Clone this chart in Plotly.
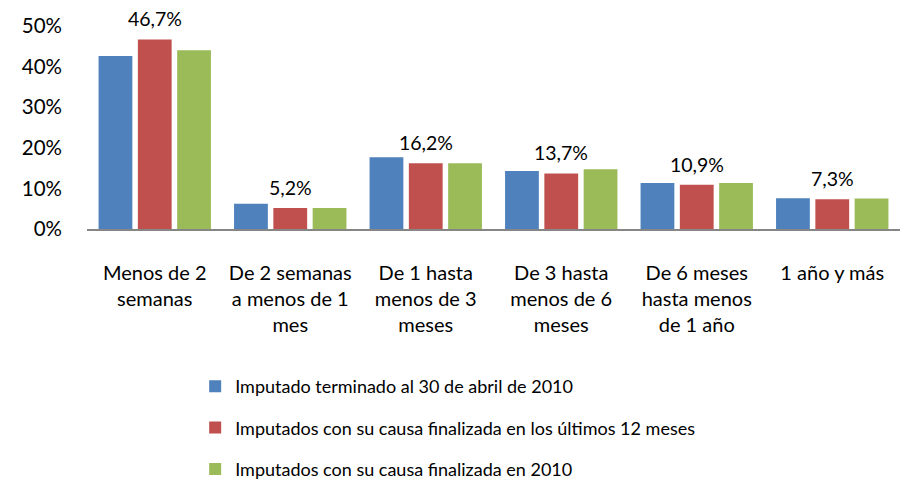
import plotly.graph_objects as go

categories = ["Menos de 2<br>semanas", "De 2 semanas<br>a menos de 1<br>mes", "De 1 hasta<br>menos de 3<br>meses",
              "De 3 hasta<br>menos de 6<br>meses", "De 6 meses<br>hasta menos<br>de 1 año", "1 año y más"]
series_names = ["Imputado terminado al 30 de abril de 2010",
                "Imputados con su causa finalizada en los últimos 12 meses",
                "Imputados con su causa finalizada en 2010"]
s_abril = [0.426, 0.062, 0.177, 0.143, 0.113, 0.076]
s_12m = [0.467, 0.052, 0.162, 0.137, 0.109, 0.073]
s_2010 = [0.440, 0.052, 0.162, 0.147, 0.113, 0.075]
colors = ["#4F81BD", "#C0504D", "#9BBB59"]

FONT = "Lato"
fig = go.Figure()
for i, (name, vals) in enumerate(zip(series_names, [s_abril, s_12m, s_2010])):
    fig.add_trace(go.Bar(x=categories, y=vals, name=name, marker_color=colors[i],
                         marker_line_width=0, legendgroup=f"g{i}"))

for c, v in zip(categories, s_12m):
    fig.add_annotation(x=c, y=v, text=f"{v*100:.1f}%".replace(".", ","), showarrow=False,
                       yanchor="bottom", yshift=7, font=dict(family=FONT, size=19.5, color="#000"))

fig.update_layout(
    width=913, height=480,
    margin=dict(l=79, r=21, t=18, b=259, autoexpand=False),
    paper_bgcolor="white", plot_bgcolor="white",
    barmode="group", bargap=0.13, bargroupgap=0.14,
    separators=",.",
    font=dict(family=FONT, size=20, color="#000"),
    showlegend=True,
    legend=dict(orientation="v", xref="container", yref="container", x=0.205, y=0.0,
                xanchor="left", yanchor="bottom", tracegroupgap=15,
                font=dict(family=FONT, size=18, color="#000")),
)
fig.update_xaxes(showline=True, linecolor="#868686", linewidth=2, ticks="", showgrid=False,
                 tickangle=0, automargin=False,
                 ticklabelstandoff=25, tickfont=dict(family=FONT, size=20))
fig.update_yaxes(range=[0, 0.5], tickvals=[0, 0.1, 0.2, 0.3, 0.4, 0.5], tickformat=".0%",
                 showgrid=False, zeroline=False, showline=False, ticks="", automargin=False,
                 ticklabelstandoff=24, tickfont=dict(family=FONT, size=20.5))

fig.write_html("out.html")
